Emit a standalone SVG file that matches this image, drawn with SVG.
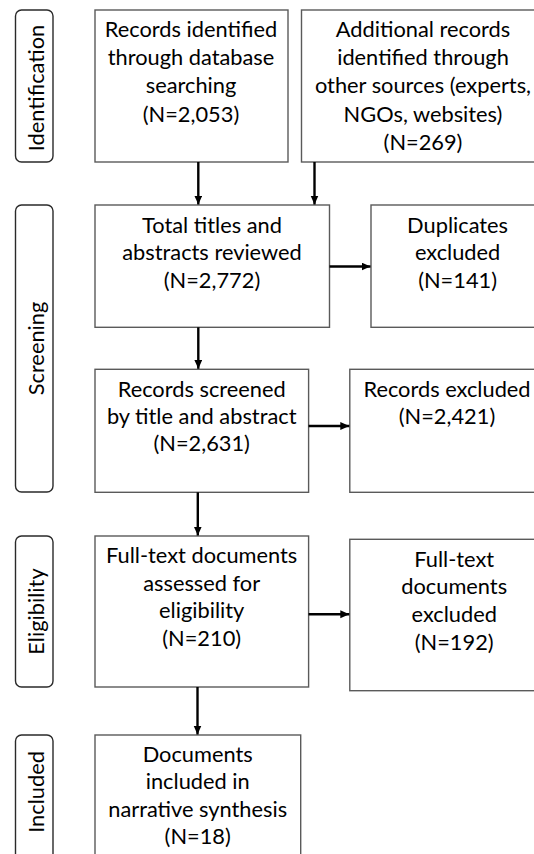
<svg xmlns="http://www.w3.org/2000/svg" width="534" height="854" viewBox="0 0 534 854">
<style>
.box{fill:#fff;stroke:#5a5a5a;stroke-width:1.4}
.lab{fill:#fff;stroke:#2a2a2a;stroke-width:1.4}
text{font-family:Lato,"Liberation Sans",sans-serif;font-size:21.8px;fill:#000;text-anchor:middle}
.conn line{stroke:#000;stroke-width:2.4}
</style>
<defs>
<marker id="ah" markerUnits="userSpaceOnUse" markerWidth="10" markerHeight="9" refX="9" refY="4" orient="auto">
<path d="M0,0 L9,4 L0,8 z" fill="#000"/>
</marker>
</defs>
<rect width="534" height="854" fill="#fff"/>
<g id="label-identification"><rect class="lab" x="15.5" y="10" width="37.5" height="152" rx="6"/><text transform="translate(44,88) rotate(-90)">Identification</text></g>
<g id="label-screening"><rect class="lab" x="15.5" y="205" width="37.5" height="287" rx="6"/><text transform="translate(44,348.5) rotate(-90)">Screening</text></g>
<g id="label-eligibility"><rect class="lab" x="15.5" y="536" width="37.5" height="151" rx="6"/><text transform="translate(44,611.5) rotate(-90)">Eligibility</text></g>
<g id="label-included"><rect class="lab" x="15.5" y="735" width="37.5" height="125" rx="6"/><text transform="translate(44,792) rotate(-90)">Included</text></g>
<g id="db-records"><rect class="box" x="95" y="10" width="193" height="152"/>
<text x="191" y="36.7">Records identified</text><text x="191" y="65">through database</text><text x="191" y="93.3">searching</text><text x="191" y="121.7">(N=2,053)</text></g>
<g id="other-records"><rect class="box" x="301.5" y="10" width="243" height="152"/>
<text x="423" y="36.7">Additional records</text><text x="423" y="65">identified through</text><text x="423" y="93.3">other sources (experts,</text><text x="423" y="121.7">NGOs, websites)</text><text x="423" y="150">(N=269)</text></g>
<g id="total-reviewed"><rect class="box" x="95" y="205" width="234.5" height="122.3"/>
<text x="212" y="232.5">Total titles and</text><text x="212" y="260.2">abstracts reviewed</text><text x="212" y="288">(N=2,772)</text></g>
<g id="duplicates"><rect class="box" x="371" y="205" width="174" height="122.3"/>
<text x="457.6" y="232.5">Duplicates</text><text x="457.6" y="260.2">excluded</text><text x="457.6" y="288">(N=141)</text></g>
<g id="screened"><rect class="box" x="95" y="369.3" width="213.6" height="123"/>
<text x="201.7" y="397">Records screened</text><text x="201.7" y="424">by title and abstract</text><text x="201.7" y="451">(N=2,631)</text></g>
<g id="records-excluded"><rect class="box" x="349.8" y="369.3" width="195" height="123"/>
<text x="447" y="397">Records excluded</text><text x="447" y="424">(N=2,421)</text></g>
<g id="fulltext-assessed"><rect class="box" x="95" y="536" width="213.6" height="151"/>
<text x="201.7" y="563.3">Full-text documents</text><text x="201.7" y="590.7">assessed for</text><text x="201.7" y="618.3">eligibility</text><text x="201.7" y="645.7">(N=210)</text></g>
<g id="fulltext-excluded"><rect class="box" x="349.8" y="539.3" width="209" height="151.4"/>
<text x="454.2" y="566.7">Full-text</text><text x="454.2" y="594.3">documents</text><text x="454.2" y="622.3">excluded</text><text x="454.2" y="650">(N=192)</text></g>
<g id="included"><rect class="box" x="95" y="735" width="205.7" height="125"/>
<text x="197.7" y="761.7">Documents</text><text x="197.7" y="789.3">included in</text><text x="197.7" y="816.7">narrative synthesis</text><text x="197.7" y="844.3">(N=18)</text></g>
<g id="connectors" class="conn">
<line x1="198.3" y1="162" x2="198.3" y2="204.5" marker-end="url(#ah)"/>
<line x1="314.5" y1="162" x2="314.5" y2="204.5" marker-end="url(#ah)"/>
<line x1="329.5" y1="266.5" x2="370.5" y2="266.5" marker-end="url(#ah)"/>
<line x1="198.3" y1="327.3" x2="198.3" y2="368.8" marker-end="url(#ah)"/>
<line x1="308.6" y1="426" x2="349.3" y2="426" marker-end="url(#ah)"/>
<line x1="197.8" y1="492.3" x2="197.8" y2="535.5" marker-end="url(#ah)"/>
<line x1="308.6" y1="614.3" x2="349.3" y2="614.3" marker-end="url(#ah)"/>
<line x1="197.5" y1="687" x2="197.5" y2="734.5" marker-end="url(#ah)"/>
</g>
</svg>
